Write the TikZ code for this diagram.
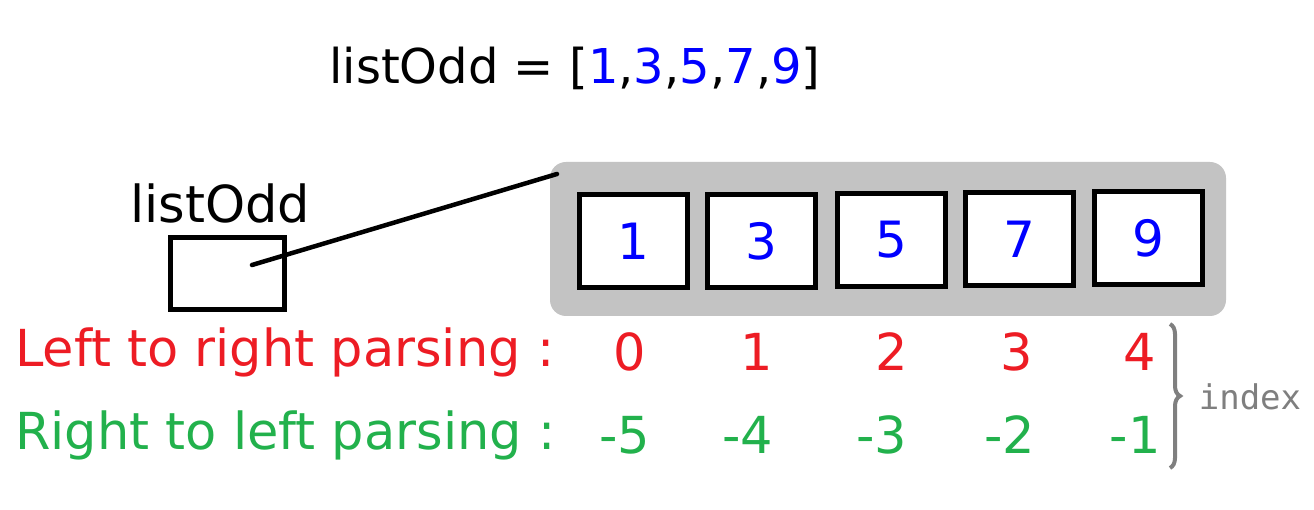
\documentclass[tikz,border=0pt]{standalone}
\usepackage{fontspec}
\setmainfont{DejaVu Sans}
\newfontfamily\idxfont{DejaVu Sans Mono}
\usetikzlibrary{decorations.pathreplacing}
\definecolor{paintred}{RGB}{237,28,36}
\definecolor{paintgreen}{RGB}{34,177,76}
\definecolor{panelgray}{RGB}{195,195,195}
\definecolor{bracegray}{RGB}{127,127,127}
\tikzset{
  cell/.style={draw,line width=5pt,fill=white,minimum width=108pt,minimum height=93pt,inner sep=0pt,font=\fontsize{50}{60}\selectfont,text=blue},
  lbl/.style={font=\fontsize{51}{60}\selectfont,inner sep=0pt},
  redi/.style={lbl,text=paintred},
  greeni/.style={lbl,text=paintgreen}
}
\begin{document}
\begin{tikzpicture}[x=1pt,y=-1pt]
\useasboundingbox (0,0) rectangle (1314,510);
\node[lbl,font=\fontsize{48}{58}\selectfont] (title) at (575,68) {listOdd = [\textcolor{blue}{1},\textcolor{blue}{3},\textcolor{blue}{5},\textcolor{blue}{7},\textcolor{blue}{9}]};
\node[lbl] (varname) at (220,203) {listOdd};
\node[draw,line width=5pt,minimum width=114pt,minimum height=72pt,inner sep=0pt] (var) at (227.5,273.5) {};
\node[fill=panelgray,rounded corners=16pt,minimum width=676pt,minimum height=154pt] (arr) at (888,239) {};
\node[cell] (c0) at (633.5,241) {1};
\node[cell] (c1) at (761,241) {3};
\node[cell] (c2) at (891.5,240) {5};
\node[cell] (c3) at (1019.5,239) {7};
\node[cell] (c4) at (1148.5,238) {9};
\coordinate (ptr) at (252,265);
\coordinate (tip) at (557,174);
\draw[line width=4.5pt,line cap=round] (ptr) -- (tip);
\node[redi,anchor=west] (ltr) at (15,352) {Left to right parsing :};
\node[greeni,anchor=west] (rtl) at (15,435) {Right to left parsing :};
\node[redi] (p0) at (630,352) {0};
\node[redi] (p1) at (757,352) {1};
\node[redi] (p2) at (892,352) {2};
\node[redi] (p3) at (1017,352) {3};
\node[redi] (p4) at (1140,352) {4};
\node[greeni] (n5) at (625,435) {-5};
\node[greeni] (n4) at (748,435) {-4};
\node[greeni] (n3) at (882,435) {-3};
\node[greeni] (n2) at (1010,435) {-2};
\node[greeni] (n1) at (1135,435) {-1};
\coordinate (bt) at (1170,324);
\coordinate (bb) at (1170,468);
\draw[decorate,decoration={brace,amplitude=10pt},bracegray,line width=4pt] (bt) -- (bb);
\node[font=\idxfont\fontsize{34}{40}\selectfont,text=bracegray] (idx) at (1250,397) {index};
\end{tikzpicture}
\end{document}
